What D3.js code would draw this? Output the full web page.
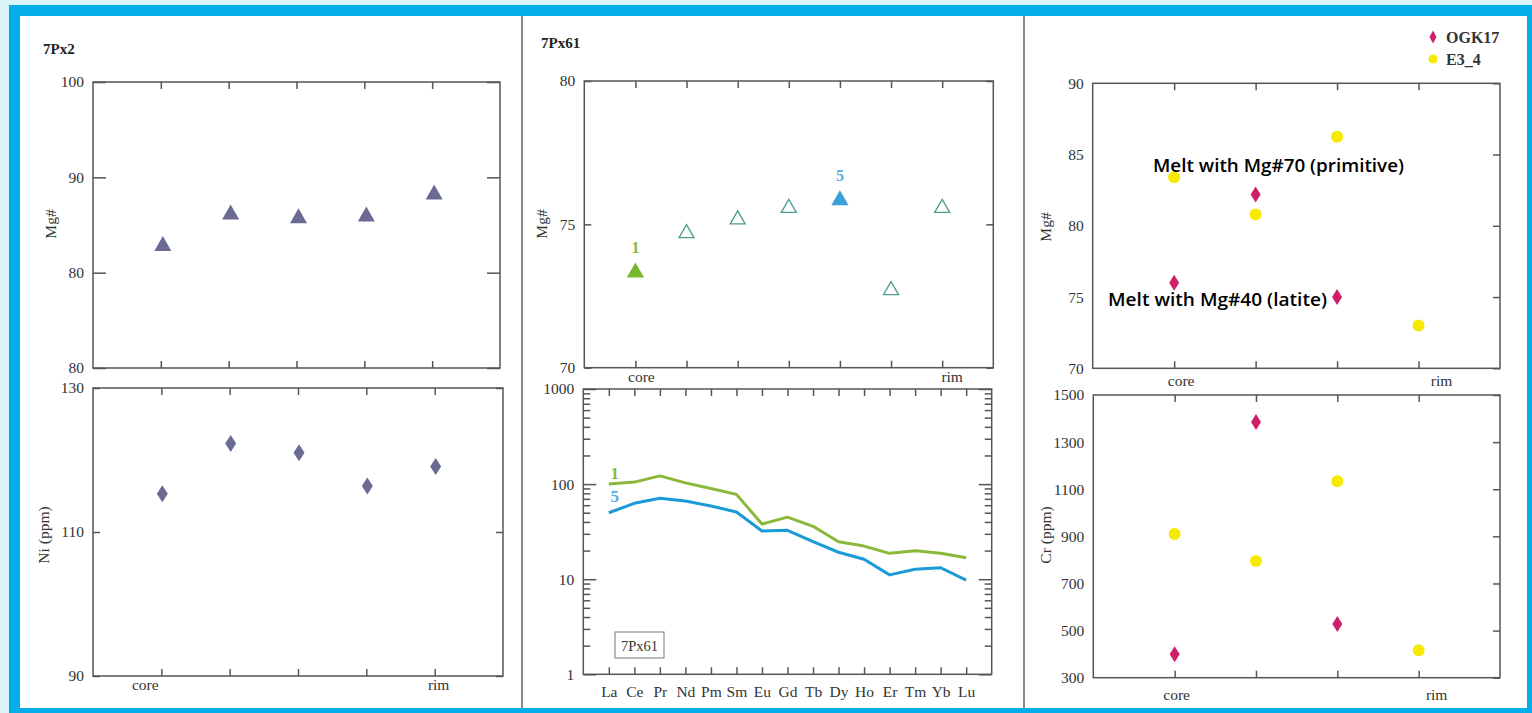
<!DOCTYPE html>
<html><head><meta charset="utf-8">
<script src="https://cdn.jsdelivr.net/npm/d3@7"></script>
<style>
html,body{margin:0;padding:0;background:#d9f3f9;}
svg{display:block;}
</style></head>
<body>
<svg id="chart" width="1532" height="713"></svg>
<script>
// ---------- DATA ----------
const px2Steps = [1, 2, 3, 4, 5];
const px2Mg = [82.9, 86.2, 85.8, 86.0, 88.3];
const px2Ni = [115.3, 122.3, 121.0, 116.4, 119.1];
const px2MgTicks = [100, 90, 80, 70];
const px2MgTickLabels = ["100", "90", "80", "80"];
const px2NiTicks = [130, 110, 90];

const px61Steps = [1, 2, 3, 4, 5, 6, 7];
const px61Mg = [73.35, 74.72, 75.2, 75.6, 75.87, 72.73, 75.6];
const px61Labels = ["1", "", "", "", "5", "", ""];
const px61MgTicks = [80, 75, 70];

const reeElements = ["La","Ce","Pr","Nd","Pm","Sm","Eu","Gd","Tb","Dy","Ho","Er","Tm","Yb","Lu"];
const reeSpot1 = [100, 105, 122, 103, 90, 78, 38, 45, 36, 24.8, 22.3, 18.7, 19.9, 18.7, 16.8];
const reeSpot5 = [50, 62.8, 71, 66.4, 58.9, 50.9, 32.1, 32.7, 24.8, 19.2, 16.2, 11.1, 12.7, 13.2, 9.8];
const reeTicks = [1, 10, 100, 1000];

const cmpSteps = [1, 2, 3, 4];
const ogk17Steps = [1, 2, 3];
const ogk17Mg = [76.0, 82.2, 75.0];
const ogk17Cr = [400, 1385, 528];
const e34Steps = [1, 2, 3, 4];
const e34Mg = [83.4, 80.8, 86.25, 73.0];
const e34Cr = [910, 795, 1134, 416];
const cmpMgTicks = [90, 85, 80, 75, 70];
const cmpCrTicks = [1500, 1300, 1100, 900, 700, 500, 300];
const seriesNames = ["OGK17", "E3_4"];
const coreRim = ["core", "rim"];
const notes = ["Melt with Mg#70 (primitive)", "Melt with Mg#40 (latite)"];

// ---------- STYLE ----------
const SERIF = "'Liberation Serif','Times New Roman',serif";
const TXT = "#333";
const BOX = "#555";
const slate = "#6b6a93";
const magenta = "#cf1f6b";
const yellow = "#f6ea00";

const svg = d3.select("#chart");

// frame
svg.append("rect").attr("x",9).attr("y",5).attr("width",1523).attr("height",708).attr("fill","#03aeea");
svg.append("rect").attr("x",20).attr("y",16).attr("width",1507).attr("height",692).attr("fill","#fff");
[522, 1024].forEach(x => svg.append("line").attr("x1",x).attr("x2",x).attr("y1",16).attr("y2",708)
  .attr("stroke","#8a8a8a").attr("stroke-width",2));

function trianglePath(w, h){
  return `M0,${-h*0.6}L${w/2},${h*0.4}L${-w/2},${h*0.4}Z`;
}
function diamondPath(w, h){
  return `M0,${-h/2}L${w/2},0L0,${h/2}L${-w/2},0Z`;
}

// generic panel
function panel(opt){
  const g = svg.append("g");
  const x = opt.x, y = opt.y;
  const [x0, x1] = x.range(); const [yb, yt] = y.range();
  g.append("rect").attr("x",x0).attr("y",yt).attr("width",x1-x0).attr("height",yb-yt)
    .attr("fill","none").attr("stroke",BOX).attr("stroke-width",1.5);
  const ax = d3.axisLeft(y).tickValues(opt.yTicks).tickSize(opt.leftTick ? -opt.leftTick : 0).tickPadding(9)
    .tickFormat((d,i)=> opt.yTickLabels ? opt.yTickLabels[i] : d);
  const ga = g.append("g").attr("transform",`translate(${x0},0)`).call(ax);
  ga.select(".domain").remove();
  ga.selectAll("line").attr("stroke",BOX).attr("stroke-width",1.5);
  ga.selectAll("text").attr("font-family",SERIF).attr("font-size",opt.fs||15.5).attr("fill",TXT);
  if (opt.rightTick){
    const ar = d3.axisRight(y).tickValues(opt.yTicks).tickSize(-opt.rightTick).tickFormat("");
    const gr = g.append("g").attr("transform",`translate(${x1},0)`).call(ar);
    gr.select(".domain").remove();
    gr.selectAll("line").attr("stroke",BOX).attr("stroke-width",1.5);
  }
  const xb = d3.axisBottom(x).tickValues(opt.xTicks).tickSize(-7).tickFormat("");
  const gb = g.append("g").attr("transform",`translate(0,${yb})`).call(xb);
  gb.select(".domain").remove();
  gb.selectAll("line").attr("stroke",BOX).attr("stroke-width",1.5);
  const xt = d3.axisTop(x).tickValues(opt.xTicks).tickSize(-7).tickFormat("");
  const gt = g.append("g").attr("transform",`translate(0,${yt})`).call(xt);
  gt.select(".domain").remove();
  gt.selectAll("line").attr("stroke",BOX).attr("stroke-width",1.5);
  if (opt.yLabel){
    g.append("text").attr("transform",`translate(${opt.yLabelPos[0]},${opt.yLabelPos[1]}) rotate(-90)`)
      .attr("text-anchor","middle").attr("dominant-baseline","central")
      .attr("font-family",SERIF).attr("font-size",15.5).attr("fill",TXT).text(opt.yLabel);
  }
  if (opt.coreRim){
    const pos = [opt.xTicks[0], opt.xTicks[opt.xTicks.length-1]];
    coreRim.forEach((t,i)=>{
      g.append("text").attr("x",x(pos[i]) + opt.coreRim.dx[i]).attr("y",opt.coreRim.y)
        .attr("text-anchor","middle").attr("font-family",SERIF).attr("font-size",15.5).attr("fill",TXT).text(t);
    });
  }
  return g;
}

// ---------- PANEL 1: 7Px2 ----------
svg.append("text").attr("x",43).attr("y",54).attr("font-family",SERIF).attr("font-weight","bold")
  .attr("font-size",15).attr("fill","#222").text("7Px2");

const x1a = d3.scaleLinear().domain([0,6]).range([93,500]);
const y1a = d3.scaleLinear().domain([70,100]).range([368,82]);
const p1a = panel({x:x1a, y:y1a, yTicks:px2MgTicks, yTickLabels:px2MgTickLabels, leftTick:13, rightTick:13,
  xTicks:px2Steps, yLabel:"Mg#", yLabelPos:[50,224]});
p1a.selectAll(".tri").data(px2Mg).join("path")
  .attr("d", trianglePath(17,15))
  .attr("transform",(d,i)=>`translate(${x1a(px2Steps[i])+2},${y1a(d)})`)
  .attr("fill",slate);

const x1b = d3.scaleLinear().domain([0,6]).range([93,503]);
const y1b = d3.scaleLinear().domain([90,130]).range([676,388]);
const p1b = panel({x:x1b, y:y1b, yTicks:px2NiTicks, leftTick:7, rightTick:7,
  xTicks:px2Steps, yLabel:"Ni (ppm)", yLabelPos:[43,535], coreRim:{dx:[-16,4], y:690}});
p1b.selectAll(".dia").data(px2Ni).join("path")
  .attr("d", diamondPath(11,17))
  .attr("transform",(d,i)=>`translate(${x1b(px2Steps[i])+1},${y1b(d)})`)
  .attr("fill",slate);

// ---------- PANEL 2: 7Px61 ----------
svg.append("text").attr("x",541).attr("y",48).attr("font-family",SERIF).attr("font-weight","bold")
  .attr("font-size",15).attr("fill","#222").text("7Px61");

const x2a = d3.scaleLinear().domain([0,8]).range([584.3,993.3]);
const y2a = d3.scaleLinear().domain([70,80]).range([367.7,81]);
const p2a = panel({x:x2a, y:y2a, yTicks:px61MgTicks, leftTick:7, rightTick:7,
  xTicks:px61Steps, yLabel:"Mg#", yLabelPos:[541,224], coreRim:{dx:[6,10], y:382}});
const triFill = ["#76b82a","none","none","none","#3b9fd8","none","none"];
const triStroke = ["#76b82a","#4c9b8f","#4c9b8f","#4c9b8f","#3b9fd8","#4c9b8f","#4c9b8f"];
const labCol = ["#8db83c","","","","#58aee0","",""];
p2a.selectAll(".tri2").data(px61Mg).join("path")
  .attr("d", trianglePath(15,13))
  .attr("transform",(d,i)=>`translate(${x2a(px61Steps[i])},${y2a(d)})`)
  .attr("fill",(d,i)=> triFill[i]==="none" ? "#fff" : triFill[i])
  .attr("stroke",(d,i)=>triStroke[i]).attr("stroke-width",1.3);
p2a.selectAll(".lab2").data(px61Mg).join("text")
  .attr("x",(d,i)=>x2a(px61Steps[i]))
  .attr("y",(d,i)=>y2a(d)-24)
  .attr("text-anchor","middle").attr("dominant-baseline","central")
  .attr("font-family",SERIF).attr("font-weight","bold").attr("font-size",16)
  .attr("fill",(d,i)=>labCol[i]).text((d,i)=>px61Labels[i]);

// REE spider
const x2b = d3.scaleLinear().domain([-1,15]).range([583.3,991.7]);
const y2b = d3.scaleLog().domain([1,1000]).range([674.3,389]);
const [bx0,bx1] = x2b.range(), [byb,byt] = y2b.range();
const g2b = svg.append("g");
g2b.append("rect").attr("x",bx0).attr("y",byt).attr("width",bx1-bx0).attr("height",byb-byt)
  .attr("fill","none").attr("stroke",BOX).attr("stroke-width",1.5);
const minorVals = [];
[1,10,100].forEach(dec => { for (let k=2;k<=9;k++) minorVals.push(dec*k); });
[[d3.axisLeft, bx0],[d3.axisRight, bx1]].forEach(([axf, xx], j)=>{
  const gM = g2b.append("g").attr("transform",`translate(${xx},0)`)
    .call(axf(y2b).tickValues(reeTicks).tickSize(-13).tickPadding(9)
      .tickFormat(j===0 ? (d=>d) : ""));
  gM.select(".domain").remove();
  gM.selectAll("line").attr("stroke",BOX).attr("stroke-width",1.5);
  gM.selectAll("text").attr("font-family",SERIF).attr("font-size",15.5).attr("fill",TXT);
  const gm = g2b.append("g").attr("transform",`translate(${xx},0)`)
    .call(axf(y2b).tickValues(minorVals).tickSize(-7).tickFormat(""));
  gm.select(".domain").remove();
  gm.selectAll("line").attr("stroke",BOX).attr("stroke-width",1.5);
});
const reeIdx = reeElements.map((d,i)=>i);
const gxb = g2b.append("g").attr("transform",`translate(0,${byb})`)
  .call(d3.axisBottom(x2b).tickValues(reeIdx).tickSize(-7).tickPadding(12).tickFormat(i=>reeElements[i]));
gxb.select(".domain").remove();
gxb.selectAll("line").attr("stroke",BOX).attr("stroke-width",1.5);
gxb.selectAll("text").attr("font-family",SERIF).attr("font-size",15.5).attr("fill",TXT);
const gxt = g2b.append("g").attr("transform",`translate(0,${byt})`)
  .call(d3.axisTop(x2b).tickValues(reeIdx).tickSize(-7).tickFormat(""));
gxt.select(".domain").remove();
gxt.selectAll("line").attr("stroke",BOX).attr("stroke-width",1.5);

const line = d3.line().x((d,i)=>x2b(i)).y(d=>y2b(d));
g2b.append("path").datum(reeSpot1).attr("d",line).attr("fill","none").attr("stroke","#8ab83a").attr("stroke-width",3).attr("stroke-linejoin","round");
g2b.append("path").datum(reeSpot5).attr("d",line).attr("fill","none").attr("stroke","#1a9bd7").attr("stroke-width",3).attr("stroke-linejoin","round");
g2b.append("text").attr("x",x2b(0)+6).attr("y",y2b(reeSpot1[0])-11).attr("text-anchor","middle").attr("dominant-baseline","central")
  .attr("font-family",SERIF).attr("font-weight","bold").attr("font-size",17).attr("fill","#8ab83a").text(px61Labels[0]);
g2b.append("text").attr("x",x2b(0)+6).attr("y",y2b(reeSpot1[0])+12).attr("text-anchor","middle").attr("dominant-baseline","central")
  .attr("font-family",SERIF).attr("font-weight","bold").attr("font-size",17).attr("fill","#58aee0").text(px61Labels[4]);
g2b.append("rect").attr("x",615).attr("y",632).attr("width",49).attr("height",26)
  .attr("fill","#fff").attr("stroke","#777").attr("stroke-width",1);
g2b.append("text").attr("x",639.5).attr("y",645.5).attr("text-anchor","middle").attr("dominant-baseline","central")
  .attr("font-family",SERIF).attr("font-size",14.5).attr("fill",TXT).text("7Px61");

// ---------- PANEL 3: comparison ----------
const x3a = d3.scaleLinear().domain([0,5]).range([1092.7,1500]);
const y3a = d3.scaleLinear().domain([70,90]).range([368.3,83.3]);
const p3a = panel({x:x3a, y:y3a, yTicks:cmpMgTicks, leftTick:0, rightTick:7,
  xTicks:cmpSteps, yLabel:"Mg#", yLabelPos:[1045,227], coreRim:{dx:[7,23], y:386}});
const x3b = d3.scaleLinear().domain([0,5]).range([1093.3,1500]);
const y3b = d3.scaleLinear().domain([300,1500]).range([677.7,395]);
const p3b = panel({x:x3b, y:y3b, yTicks:cmpCrTicks, leftTick:0, rightTick:7,
  xTicks:cmpSteps, yLabel:"Cr (ppm)", yLabelPos:[1045,535], coreRim:{dx:[2,18], y:700}});

function drawCmp(g, x, y, ogk, e34){
  g.selectAll(".c").data(e34).join("circle")
    .attr("cx",(d,i)=>x(e34Steps[i])).attr("cy",d=>y(d)).attr("r",6).attr("fill",yellow);
  g.selectAll(".d").data(ogk).join("path")
    .attr("d",diamondPath(10,16))
    .attr("transform",(d,i)=>`translate(${x(ogk17Steps[i])},${y(d)})`).attr("fill",magenta);
}
drawCmp(p3a, x3a, y3a, ogk17Mg, e34Mg);
drawCmp(p3b, x3b, y3b, ogk17Cr, e34Cr);

// annotations
svg.append("text").attr("x",1153).attr("y",164.5).attr("dominant-baseline","central")
  .attr("font-family","'Open Sans',sans-serif").attr("font-weight",600).attr("font-size",17.5).attr("fill","#000")
  .attr("textLength",251).attr("lengthAdjust","spacingAndGlyphs").text(notes[0]);
svg.append("text").attr("x",1108).attr("y",299).attr("dominant-baseline","central")
  .attr("font-family","'Open Sans',sans-serif").attr("font-weight",600).attr("font-size",17.5).attr("fill","#000")
  .attr("textLength",219).attr("lengthAdjust","spacingAndGlyphs").text(notes[1]);

// legend
const lg = svg.append("g");
lg.append("path").attr("d",diamondPath(7,13)).attr("transform","translate(1433,37)").attr("fill",magenta);
lg.append("circle").attr("cx",1433).attr("cy",59).attr("r",4.5).attr("fill",yellow);
seriesNames.forEach((n,i)=>{
  lg.append("text").attr("x",1446).attr("y",37+22*i).attr("dominant-baseline","central")
    .attr("font-family",SERIF).attr("font-weight","bold").attr("font-size",16).attr("fill","#333").text(n);
});
</script>
</body></html>
